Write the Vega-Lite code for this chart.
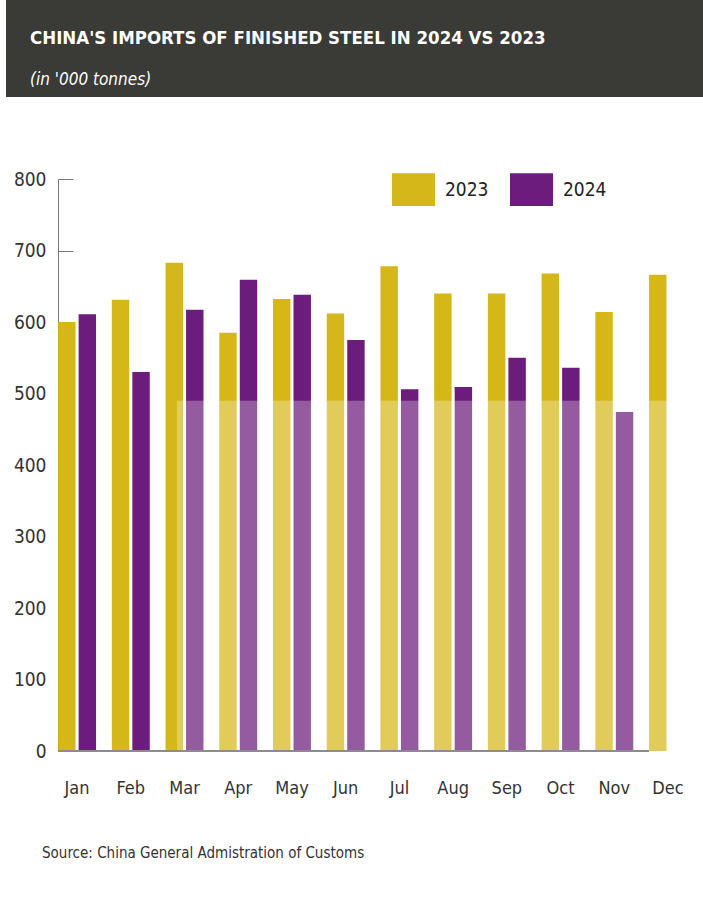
{
  "$schema": "https://vega.github.io/schema/vega-lite/v6.json",
  "padding": {"left": 6, "top": 0, "right": 0, "bottom": 0},
  "background": "white",
  "spacing": 82,
  "bounds": "flush",
  "config": {
    "view": {"stroke": null},
    "font": "DejaVu Sans Condensed, sans-serif"
  },
  "vconcat": [
    {
      "width": 697,
      "height": 97,
      "view": {"fill": "#3a3a37", "stroke": null},
      "data": {"values": [{"part": "header"}]},
      "mark": {"type": "rect", "fill": "#3a3a37"},
      "encoding": {},
      "title": {
        "text": "CHINA'S IMPORTS OF FINISHED STEEL IN 2024 VS 2023",
        "subtitle": "(in '000 tonnes)",
        "anchor": "start",
        "frame": "group",
        "orient": "top",
        "offset": -88,
        "dx": 24,
        "color": "white",
        "subtitleColor": "white",
        "font": "DejaVu Sans Condensed, sans-serif",
        "subtitleFont": "DejaVu Sans Condensed, sans-serif",
        "fontSize": 18.5,
        "fontWeight": "bold",
        "subtitleFontSize": 17,
        "subtitleFontStyle": "italic",
        "subtitlePadding": 25
      }
    },
    {
      "width": 697,
      "height": 572,
      "view": {"fill": "white", "stroke": null},
      "title": {
        "text": "Source: China General Admistration of Customs",
        "orient": "bottom",
        "anchor": "start",
        "frame": "group",
        "dx": 36,
        "offset": 49,
        "fontSize": 15,
        "fontWeight": "normal",
        "color": "#333333"
      },
      "layer": [
        {
          "data": {
            "values": [
              {"month": "Jan", "year": "2023", "value": 600},
              {"month": "Jan", "year": "2024", "value": 611},
              {"month": "Feb", "year": "2023", "value": 631},
              {"month": "Feb", "year": "2024", "value": 530},
              {"month": "Mar", "year": "2023", "value": 683},
              {"month": "Mar", "year": "2024", "value": 617},
              {"month": "Apr", "year": "2023", "value": 585},
              {"month": "Apr", "year": "2024", "value": 659},
              {"month": "May", "year": "2023", "value": 632},
              {"month": "May", "year": "2024", "value": 638},
              {"month": "Jun", "year": "2023", "value": 612},
              {"month": "Jun", "year": "2024", "value": 575},
              {"month": "Jul", "year": "2023", "value": 678},
              {"month": "Jul", "year": "2024", "value": 506},
              {"month": "Aug", "year": "2023", "value": 640},
              {"month": "Aug", "year": "2024", "value": 509},
              {"month": "Sep", "year": "2023", "value": 640},
              {"month": "Sep", "year": "2024", "value": 550},
              {"month": "Oct", "year": "2023", "value": 668},
              {"month": "Oct", "year": "2024", "value": 536},
              {"month": "Nov", "year": "2023", "value": 614},
              {"month": "Nov", "year": "2024", "value": 474},
              {"month": "Dec", "year": "2023", "value": 666}
            ]
          },
          "mark": {"type": "bar"},
          "encoding": {
            "x": {
              "field": "month",
              "type": "nominal",
              "scale": {
                "type": "band",
                "domain": ["Jan","Feb","Mar","Apr","May","Jun","Jul","Aug","Sep","Oct","Nov","Dec"],
                "paddingInner": 0.294,
                "paddingOuter": 0.634,
                "align": 0.765
              },
              "axis": {
                "title": null,
                "domain": false,
                "ticks": false,
                "labelAngle": 0,
                "labelPadding": 28,
                "labelFontSize": 18,
                "labelColor": "#333333"
              }
            },
            "xOffset": {
              "field": "year",
              "type": "nominal",
              "scale": {"paddingInner": 0.15, "paddingOuter": 0}
            },
            "y": {
              "field": "value",
              "type": "quantitative",
              "scale": {"domain": [0, 800], "nice": false},
              "axis": {
                "title": null,
                "grid": false,
                "values": [0, 100, 200, 300, 400, 500, 600, 700, 800],
                "offset": -52,
                "tickSize": -15,
                "tickColor": "#777777",
                "domainColor": "#777777",
                "labelPadding": 27,
                "labelFontSize": 19,
                "labelColor": "#333333"
              }
            },
            "color": {
              "field": "year",
              "type": "nominal",
              "scale": {"domain": ["2023", "2024"], "range": ["#d6b719", "#6c1c7c"]},
              "legend": {
                "orient": "none",
                "legendX": 386,
                "legendY": 168,
                "direction": "horizontal",
                "title": null,
                "symbolType": "M-1,-0.76H1V0.76H-1Z",
                "symbolSize": 1849,
                "symbolStrokeWidth": 0,
                "symbolOpacity": 1,
                "labelFontSize": 19,
                "labelOffset": 10,
                "columnPadding": 21,
                "labelColor": "#222222"
              }
            }
          }
        },
        {
          "data": {"values": [{"from": "Mar", "to": "Dec", "top": 490, "bottom": 0}]},
          "mark": {"type": "rect", "fill": "white", "opacity": 0.28},
          "encoding": {
            "x": {"field": "from", "type": "nominal", "bandPosition": 0.3},
            "x2": {"field": "to", "bandPosition": 1},
            "y": {"field": "top", "type": "quantitative"},
            "y2": {"field": "bottom"}
          }
        },
        {
          "data": {"values": [{"from": "Jan", "to": "Dec", "base": 0}]},
          "mark": {"type": "rule", "color": "#8c8c8c", "strokeWidth": 2},
          "encoding": {
            "x": {"field": "from", "type": "nominal", "bandPosition": 0},
            "x2": {"field": "to", "bandPosition": 0},
            "y": {"field": "base", "type": "quantitative"}
          }
        }
      ]
    }
  ]
}
